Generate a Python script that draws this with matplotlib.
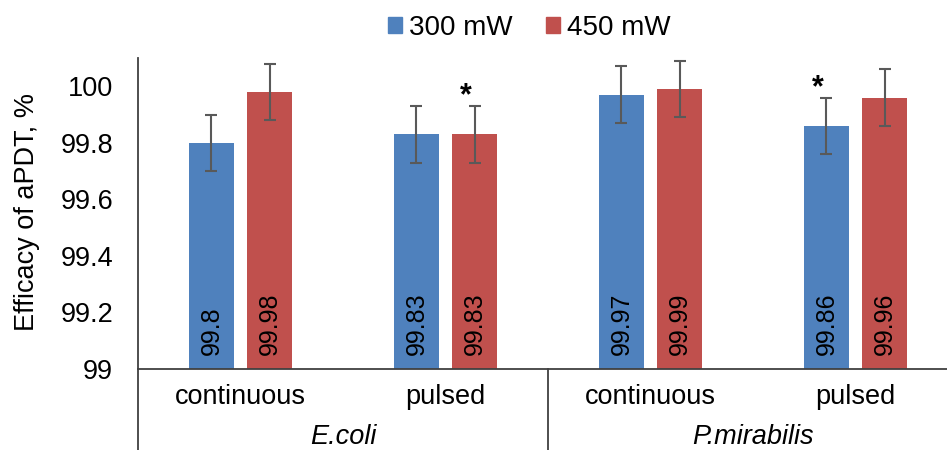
import matplotlib
matplotlib.use("Agg")
import matplotlib.pyplot as plt
import matplotlib.transforms as mtransforms
from matplotlib.patches import Patch
import numpy as np

plt.rcParams['font.family'] = ['Liberation Sans', 'DejaVu Sans']

# --- data ---
modes = ['continuous', 'pulsed', 'continuous', 'pulsed']
bacteria = ['E.coli', 'P.mirabilis']
series_names = ['300 mW', '450 mW']
vals_300 = [99.80, 99.83, 99.97, 99.86]
vals_450 = [99.98, 99.83, 99.99, 99.96]
err_300 = [0.1, 0.1, 0.1, 0.1]
err_450 = [0.1, 0.1, 0.1, 0.1]
labels_300 = ['99.8', '99.83', '99.97', '99.86']
labels_450 = ['99.98', '99.83', '99.99', '99.96']
# significance stars: (category index, series index)
stars = [(1, 1), (3, 0)]

c_blue = '#4F81BD'
c_red = '#C0504D'
c_err = '#595959'
c_axis = '#404040'

W, H = 947, 450
fig = plt.figure(figsize=(W / 100, H / 100), dpi=100)
ax = fig.add_axes([138 / W, (H - 369) / H, (W - 138) / W, (369 - 58) / H])

x = np.arange(len(modes))
bw = 0.224
off = 0.1415

all_vals = [vals_300, vals_450]
all_errs = [err_300, err_450]
all_labs = [labels_300, labels_450]
colors = [c_blue, c_red]
offsets = [-off, off]

for s in range(2):
	xs = x + offsets[s]
	heights = [v - 99 for v in all_vals[s]]
	ax.bar(xs, heights, bw, bottom=99, color=colors[s], edgecolor='none', zorder=2)
	ax.errorbar(xs, all_vals[s], yerr=all_errs[s], fmt='none', ecolor=c_err,
		elinewidth=1.5, capsize=4.5, capthick=1.5, zorder=3)
	for i, xi in enumerate(xs):
		ax.annotate(all_labs[s][i], (xi, 99), xytext=(0, 10), textcoords='offset points',
			rotation=90, ha='center', va='bottom', fontsize=18, color='black', zorder=4)

for ci, si in stars:
	xi = x[ci] + offsets[si] - 0.042
	yi = all_vals[si][ci] + all_errs[si][ci]
	ax.annotate('*', (xi, yi), xytext=(0, -4), textcoords='offset points',
		ha='center', va='bottom', fontsize=22, fontweight='bold', color='black')

ax.set_xlim(-0.5, -0.5 + (W - 138) / 205)
ax.set_ylim(99, 100.1)
ax.set_yticks([99, 99.2, 99.4, 99.6, 99.8, 100])
ax.set_yticklabels(['99', '99.2', '99.4', '99.6', '99.8', '100'])
ax.tick_params(axis='y', length=0, pad=18, labelsize=19.5, colors='black')
ax.set_xticks([])

for sp in ['top', 'right']:
	ax.spines[sp].set_visible(False)
ax.spines['left'].set_color(c_axis)
ax.spines['bottom'].set_color(c_axis)
ax.spines['left'].set_linewidth(1.3)
ax.spines['bottom'].set_linewidth(1.3)

# multi-level category axis below the plot
trans = mtransforms.blended_transform_factory(ax.transData, ax.transAxes)
px = 1.0 / (369 - 58)  # one pixel in axes fraction (vertical)
ax.plot([-0.5, -0.5], [0, -90 * px], transform=trans, color=c_axis, lw=1.3, clip_on=False)
ax.plot([1.5, 1.5], [0, -90 * px], transform=trans, color=c_axis, lw=1.3, clip_on=False)
for i, m in enumerate(modes):
	ax.text(x[i], -28 * px, m, transform=trans, ha='center', va='center', fontsize=19.5)
for j, b in enumerate(bacteria):
	ax.text(2 * j + 0.5, -68 * px, b, transform=trans, ha='center', va='center',
		fontsize=19.5, style='italic')

fig.text(27 / W, 1 - 212 / H, 'Efficacy of aPDT, %', rotation=90, ha='center', va='center',
	fontsize=19.5)

handles = [Patch(color=c_blue), Patch(color=c_red)]
fig.legend(handles, series_names, loc='center', bbox_to_anchor=(529 / W, 1 - 28 / H), ncol=2,
	frameon=False, fontsize=20, handlelength=0.5, handleheight=0.5, handletextpad=0.25,
	columnspacing=1.2, borderpad=0)

fig.savefig('out.png', dpi=100)
